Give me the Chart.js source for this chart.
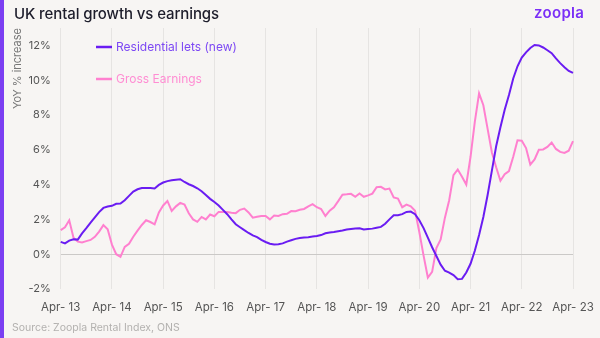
<!DOCTYPE html>
<html>
<head>
<meta charset="utf-8">
<script src="https://cdn.jsdelivr.net/npm/chart.js@4.4.1/dist/chart.umd.min.js"></script>
<style>
  html, body { margin: 0; padding: 0; background: #f7f5f3; }
  #wrap { position: relative; width: 600px; height: 338px; overflow: hidden; font-family: Inter, "Noto Sans", sans-serif; }
  #bar { position: absolute; left: 0; top: 0; width: 4px; height: 338px; background: #7b3ff2; }
  #title { position: absolute; left: 14px; top: 4px; font-size: 15px; font-weight: 500; color: #1d1d2b; letter-spacing: -0.1px; }
  #logo { position: absolute; left: 534px; top: 3px; font-size: 15px; font-weight: 600; color: #7b2ff7; letter-spacing: 0.3px; }
  #source { position: absolute; left: 12px; top: 321px; font-size: 10.5px; color: #b3b1af; }
  canvas { position: absolute; left: 0; top: 0; }
</style>
</head>
<body>
<div id="wrap">
  <div id="bar"></div>
  <canvas id="growthChart" width="600" height="338"></canvas>
  <div id="title">UK rental growth vs earnings</div>
  <div id="logo">zoopla</div>
  <div id="source">Source: Zoopla Rental Index, ONS</div>
</div>
<script>
  // Monthly, Apr-13 to Apr-23 (YoY % change)
  const monthNames = ["Apr", "May", "Jun", "Jul", "Aug", "Sep", "Oct", "Nov", "Dec", "Jan", "Feb", "Mar"];
  const months = [];
  for (let i = 0; i <= 120; i++) {
    const yr = 13 + Math.floor((i + 3) / 12);
    months.push(monthNames[i % 12] + "-" + yr);
  }

  const residentialLets = [
    0.71, 0.62, 0.78, 0.86, 0.84, 1.2, 1.5, 1.82, 2.12, 2.42, 2.66, 2.74,
    2.78, 2.9, 2.91, 3.1, 3.35, 3.6, 3.73, 3.8, 3.81, 3.8, 3.78, 3.98,
    4.12, 4.2, 4.25, 4.28, 4.31, 4.15, 4.02, 3.92, 3.79, 3.62, 3.4, 3.18,
    3.0, 2.8, 2.55, 2.3, 2.0, 1.72, 1.55, 1.38, 1.22, 1.08, 0.98, 0.82,
    0.7, 0.6, 0.56, 0.57, 0.62, 0.72, 0.8, 0.88, 0.93, 0.96, 0.98, 1.02,
    1.05, 1.1, 1.2, 1.25, 1.28, 1.32, 1.36, 1.42, 1.45, 1.48, 1.49, 1.42,
    1.45, 1.47, 1.52, 1.57, 1.75, 2.0, 2.24, 2.24, 2.3, 2.43, 2.45, 2.3,
    1.95, 1.5, 0.95, 0.4, -0.1, -0.6, -0.95, -1.06, -1.2, -1.44, -1.42, -1.05,
    -0.55, 0.2, 1.1, 2.14, 3.4, 4.8, 6.2, 7.3, 8.3, 9.15, 10.1, 10.8,
    11.3, 11.6, 11.85, 12.02, 12.0, 11.88, 11.72, 11.55, 11.25, 10.98, 10.75, 10.53,
    10.42
  ];

  const grossEarnings = [
    1.38, 1.55, 1.95, 0.95, 0.72, 0.68, 0.75, 0.82, 1.0, 1.3, 1.67, 1.43,
    0.55, 0.0, -0.15, 0.42, 0.6, 1.0, 1.35, 1.68, 1.95, 1.85, 1.72, 2.4,
    2.8, 3.06, 2.49, 2.75, 2.95, 2.85, 2.35, 2.0, 1.86, 2.14, 2.0, 2.28,
    2.18, 2.43, 2.43, 2.43, 2.38, 2.36, 2.55, 2.62, 2.4, 2.1, 2.15, 2.2,
    2.2, 2.0, 2.22, 2.2, 2.3, 2.32, 2.48, 2.47, 2.55, 2.6, 2.75, 2.88,
    2.7, 2.6, 2.2, 2.5, 2.7, 3.05, 3.42, 3.44, 3.47, 3.3, 3.49, 3.3,
    3.38, 3.48, 3.85, 3.87, 3.72, 3.77, 3.26, 3.2, 2.7, 2.85, 2.75, 2.5,
    1.28, -0.08, -1.34, -1.02, 0.35, 0.85, 2.1, 3.1, 4.54, 4.87, 4.45, 4.0,
    5.6, 7.6, 9.24, 8.56, 7.2, 5.85, 5.0, 4.22, 4.6, 4.78, 5.6, 6.55,
    6.52, 6.1, 5.15, 5.45, 6.0, 6.02, 6.17, 6.42, 6.05, 5.88, 5.82, 5.95,
    6.5
  ];

  const seriesNames = ["Residential lets (new)", "Gross Earnings"];
  const lineColors = ["#6a1cf2", "#ff80cf"];
  const legendTextColors = ["#7d48f4", "#ff8dd3"];

  const fontFamily = "Inter, 'Noto Sans', sans-serif";

  // legend drawn inside the plot, stacked vertically
  const insideLegend = {
    id: "insideLegend",
    afterDraw(chart) {
      const ctx = chart.ctx;
      ctx.save();
      ctx.font = "12px " + fontFamily;
      ctx.textBaseline = "middle";
      chart.data.datasets.forEach((ds, i) => {
        const y = 47 + i * 32;
        ctx.strokeStyle = ds.borderColor;
        ctx.lineWidth = 2.5;
        ctx.beginPath();
        ctx.moveTo(96, y);
        ctx.lineTo(112, y);
        ctx.stroke();
        ctx.fillStyle = legendTextColors[i];
        ctx.fillText(ds.label, 116, y);
      });
      ctx.restore();
    }
  };

  const ctx = document.getElementById("growthChart").getContext("2d");

  new Chart(ctx, {
    type: "line",
    data: {
      labels: months,
      datasets: [
        {
          label: seriesNames[0],
          data: residentialLets,
          borderColor: lineColors[0],
          borderWidth: 2,
          pointRadius: 0,
          tension: 0,
        },
        {
          label: seriesNames[1],
          data: grossEarnings,
          borderColor: lineColors[1],
          borderWidth: 2,
          pointRadius: 0,
          tension: 0,
        },
      ],
    },
    options: {
      responsive: false,
      animation: false,
      layout: { padding: { left: 11, right: 27, top: 28, bottom: 20 } },
      plugins: {
        legend: { display: false },
        tooltip: { enabled: false },
      },
      scales: {
        x: {
          offset: false,
          border: { display: false },
          grid: {
            drawTicks: false,
            lineWidth: 1,
            color: (c) => (c.index % 12 === 0 ? "#e6e4e2" : "rgba(0,0,0,0)"),
          },
          ticks: {
            autoSkip: false,
            maxRotation: 0,
            padding: 12,
            color: "#555",
            font: { family: fontFamily, size: 11.5 },
            callback: function (value, index) {
              return index % 12 === 0 ? months[index].replace("-", "- ") : "";
            },
          },
          afterFit(scale) {
            scale.height = 29;
            scale.paddingLeft = 0;
            scale.paddingRight = 0;
          },
        },
        y: {
          min: -2,
          max: 13,
          border: { display: false },
          grid: {
            drawTicks: false,
            color: (c) => (c.tick && c.tick.value === 0 ? "#cbc9c7" : "rgba(0,0,0,0)"),
          },
          ticks: {
            stepSize: 2,
            includeBounds: false,
            padding: 10,
            color: "#555",
            font: { family: fontFamily, size: 11 },
            callback: (v) => v + "%",
          },
          afterBuildTicks(scale) {
            scale.ticks = scale.ticks.filter((t) => t.value <= 12 && t.value % 2 === 0);
          },
          title: {
            display: true,
            text: "YoY % increase",
            align: "end",
            color: "#777",
            font: { family: fontFamily, size: 11 },
            padding: { top: 0, bottom: 0 },
          },
          afterFit(scale) {
            scale.width = 49.7;
          },
        },
      },
    },
    plugins: [insideLegend],
  });
</script>
</body>
</html>
